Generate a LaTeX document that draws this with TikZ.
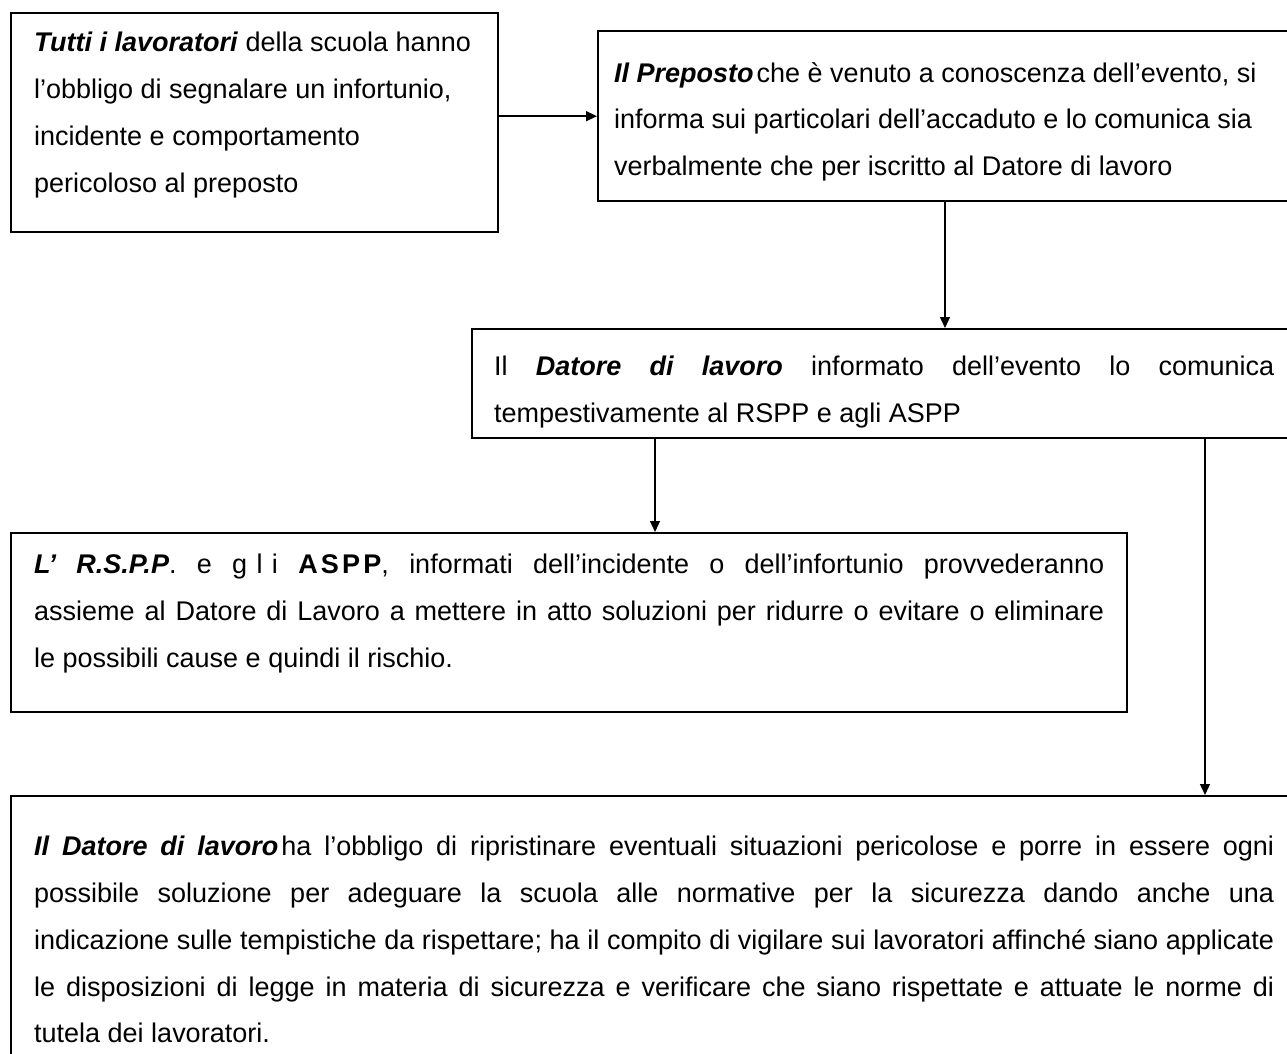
\documentclass[tikz,border=0pt]{standalone}
\usepackage{fontspec}
\setmainfont{Liberation Sans}
\usepackage{tikz}
\usetikzlibrary{arrows.meta}

\newcommand{\testo}[3]{\parbox[c][#1][t]{#2}{#3}}
\newcommand{\grass}[1]{\textbf{\textit{#1}}}

\begin{document}
\begin{tikzpicture}[x=0.5pt,y=-0.5pt,
    riquadro/.style={draw,line width=1.2pt,anchor=north west,inner xsep=11.5pt,
        font=\fontsize{13.5pt}{23.4pt}\selectfont},
    freccia/.style={-{Triangle[length=5.5pt,width=5pt]},line width=0.7pt}]
\useasboundingbox (0,0) rectangle (1287,1054);
\clip (0,0) rectangle (1287,1054);

% riquadri
\node[riquadro,inner ysep=9.5pt] (tutti) at (10,12)
    {\testo{90.5pt}{220.5pt}{\raggedright
    \grass{Tutti i lavoratori} della scuola hanno\\
    l’obbligo di segnalare un infortunio,\\
    incidente e comportamento\\
    pericoloso al preposto}};
\node[riquadro,inner xsep=8pt,inner ysep=15.5pt] (preposto) at (597,30)
    {\testo{54pt}{344pt}{\raggedright
    \grass{Il Preposto}\hspace{1.5pt}che è venuto a conoscenza dell’evento, si\\
    informa sui particolari dell’accaduto e lo comunica sia\\
    verbalmente che per iscritto al Datore di lavoro}};
\node[riquadro,inner xsep=11pt,inner ysep=13.5pt] (datore) at (471,328)
    {\testo{27.5pt}{390pt}{%
    Il \grass{Datore di lavoro} informato dell’evento lo comunica\linebreak
    tempestivamente al RSPP e agli ASPP}};
\node[riquadro,inner ysep=10.5pt] (rspp) at (10,532)
    {\testo{68.5pt}{535pt}{%
    \grass{L’ R.S.P.P}. e {\addfontfeature{LetterSpace=35}gli} {\bfseries\addfontfeature{LetterSpace=12}ASPP}, informati dell’incidente o dell’infortunio provvederanno\linebreak
    assieme al Datore di Lavoro a mettere in atto soluzioni per ridurre o evitare o eliminare\linebreak
    le possibili cause e quindi il rischio.}};
\node[riquadro,inner ysep=20pt] (obbligo) at (10,795)
    {\testo{105pt}{620pt}{%
    \grass{Il Datore di lavoro}\hspace{1.5pt}ha l’obbligo di ripristinare eventuali situazioni pericolose e porre in essere ogni\linebreak
    possibile soluzione per adeguare la scuola alle normative per la sicurezza dando anche una\linebreak
    indicazione sulle tempistiche da rispettare; ha il compito di vigilare sui lavoratori affinché siano applicate\linebreak
    le disposizioni di legge in materia di sicurezza e verificare che siano rispettate e attuate le norme di\linebreak
    tutela dei lavoratori.}};

% frecce
\coordinate (xa) at (945,0);
\coordinate (xb) at (655,0);
\coordinate (xc) at (1205,0);
\draw[freccia] (tutti.east |- preposto.west) -- (preposto.west);
\draw[freccia] (preposto.south -| xa) -- (datore.north -| xa);
\draw[freccia] (datore.south -| xb) -- (rspp.north -| xb);
\draw[freccia] (datore.south -| xc) -- (obbligo.north -| xc);
\end{tikzpicture}
\end{document}
